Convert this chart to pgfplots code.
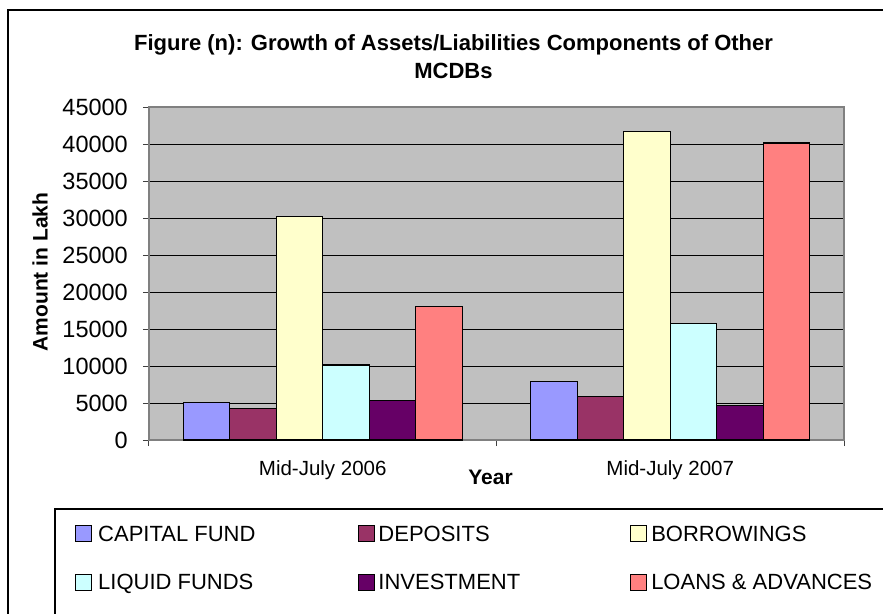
\documentclass[border=0pt]{standalone}
\usepackage{pgfplots}
\pgfplotsset{compat=1.18}
\usepackage{fontspec}
\setmainfont{Liberation Sans}
\definecolor{plotgray}{RGB}{192,192,192}
\definecolor{bordergray}{RGB}{128,128,128}
\definecolor{cCap}{RGB}{153,153,255}
\definecolor{cDep}{RGB}{153,51,102}
\definecolor{cBor}{RGB}{255,255,204}
\definecolor{cLiq}{RGB}{204,255,255}
\definecolor{cInv}{RGB}{102,0,102}
\definecolor{cLoa}{RGB}{255,128,128}
\begin{document}
\begin{tikzpicture}
\fill[white] (-149pt,-173pt) rectangle (734pt,440pt);
\begin{axis}[
  scale only axis, width=695pt, height=333pt,
  xmin=-0.5, xmax=1.5,
  ymin=0, ymax=45000,
  ytick={0,5000,10000,15000,20000,25000,30000,35000,40000,45000},
  xtick={-0.5,0.5,1.5}, xticklabels={},
  extra x ticks={0,1},
  extra x tick labels={Mid-July 2006,Mid-July 2007},
  extra x tick style={major tick length=0pt},
  xtick pos=left, ytick pos=left,
  /pgf/number format/assume math mode=true,
  /pgf/number format/1000 sep={},
  scaled y ticks=false,
  tick align=outside, major tick length=6pt,
  tick style={black!75, line width=1pt},
  axis background/.style={fill=plotgray},
  axis line style={bordergray, line width=1.4pt},
  ymajorgrids, grid style={black, line width=0.8pt},
  yticklabel style={font=\fontsize{23.5}{27}\selectfont, inner sep=0pt, xshift=-15pt},
  xticklabel style={font=\fontsize{20.5}{24}\selectfont, inner sep=0pt, yshift=-20pt},
  ybar=0pt, bar width=46.5pt,
  legend columns=3,
  legend cell align=left,
  legend image code/.code={\draw[#1, line width=1pt] (0pt,-0.5pt) rectangle (16pt,15.5pt);},
  legend style={at={(0,0)}, anchor=north west, xshift=-74pt, yshift=-85pt,
    draw=none, fill=none, inner sep=0pt,
    font=\fontsize{22}{25}\selectfont,
    nodes={inner sep=0pt, anchor=base west},
    /tikz/column 1/.style={column sep=6pt},
    /tikz/column 2/.style={column sep=103pt},
    /tikz/column 3/.style={column sep=3pt},
    /tikz/column 4/.style={column sep=110pt},
    /tikz/column 5/.style={column sep=4pt},
    row sep=31pt},
  every axis plot/.append style={draw=black, line width=1.3pt},
]
\addplot[fill=cCap] coordinates {(0,5050) (1,7870)};
\addlegendentry{CAPITAL FUND}
\addplot[fill=cDep] coordinates {(0,4300) (1,5900)};
\addlegendentry{DEPOSITS}
\addplot[fill=cBor] coordinates {(0,30250) (1,41700)};
\addlegendentry{BORROWINGS}
\addplot[fill=cLiq] coordinates {(0,10150) (1,15750)};
\addlegendentry{LIQUID FUNDS}
\addplot[fill=cInv] coordinates {(0,5300) (1,4630)};
\addlegendentry{INVESTMENT}
\addplot[fill=cLoa] coordinates {(0,18000) (1,40150)};
\addlegendentry{LOANS \& ADVANCES}
\end{axis}
% outer chart frame
\draw[line width=1.6pt] (-141pt,-200pt) -- (-141pt,430pt) -- (780pt,430pt);
% legend frame
\draw[line width=1.4pt] (-94pt,-200pt) -- (-94pt,-69pt) -- (780pt,-69pt);
% title
\node[align=center, font=\bfseries\fontsize{22}{28}\selectfont] at (304.5pt,383pt) {Figure (n): Growth of Assets/Liabilities Components of Other\\MCDBs};
% y label
\node[rotate=90, font=\bfseries\fontsize{21}{25}\selectfont] at (-109pt,168pt) {Amount in Lakh};
% x label
\node[font=\bfseries\fontsize{21}{25}\selectfont] at (341.5pt,-37pt) {Year};
\pgfresetboundingbox
\useasboundingbox (-149pt,-173pt) rectangle (734pt,440pt);
\end{tikzpicture}
\end{document}
